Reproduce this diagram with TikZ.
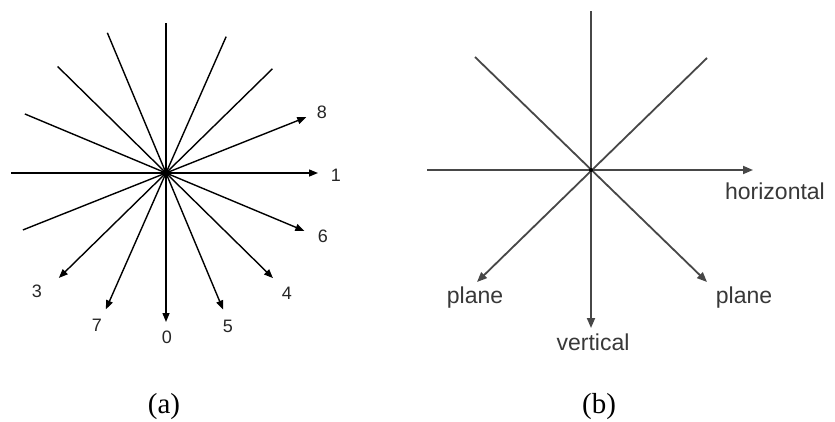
\documentclass[tikz,border=0pt]{standalone}
\usepackage{fontspec}
\setmainfont{Liberation Serif}
\newfontfamily\lblfont{Liberation Sans}
\usetikzlibrary{arrows.meta}
\begin{document}
\begin{tikzpicture}[x=1pt,y=-1pt,
  rayA/.style={line width=1.4pt, black, -{Triangle[length=9pt,width=7pt]}},
  rayB/.style={line width=1.8pt, black!72, -{Triangle[length=10pt,width=8pt]}},
  numlbl/.style={anchor=base, inner sep=0pt, font=\lblfont\fontsize{18}{18}\selectfont, text=black!85},
  wordlbl/.style={anchor=base, inner sep=0pt, font=\lblfont\fontsize{23}{23}\selectfont, text=black!78},
  caplbl/.style={anchor=base, inner sep=0pt, font=\fontsize{29}{29}\selectfont}]
\useasboundingbox (0,0) rectangle (835,421);
\fill[white] (0,0) rectangle (835,421);

% ---------- (a) ----------
\coordinate (ca) at (166,173);
\path (ca) ++(90:149) coordinate (h0);   \path (ca) ++(270:150) coordinate (t0);
\path (ca) ++(0:152) coordinate (h1);    \path (ca) ++(180:155) coordinate (t1);
\path (ca) ++(67.3:148) coordinate (h5); \path (ca) ++(247.3:152) coordinate (t5);
\path (ca) ++(113.8:149) coordinate (h7);\path (ca) ++(293.8:149) coordinate (t7);
\path (ca) ++(44.5:150) coordinate (h4); \path (ca) ++(224.5:152) coordinate (t4);
\path (ca) ++(135.6:150) coordinate (h3);\path (ca) ++(315.6:149) coordinate (t3);
\path (ca) ++(22.7:150) coordinate (h6); \path (ca) ++(202.7:153) coordinate (t6);
\path (ca) ++(-21.7:151) coordinate (h8);\path (ca) ++(158.3:154) coordinate (t8);

\foreach \k in {0,1,3,4,5,6,7,8}{
  \draw[rayA] (t\k) -- (h\k);
}
\fill[black] (ca) circle (4pt);

\node[numlbl] (l8) at (322,118) {8};
\node[numlbl] (l1) at (336,181) {1};
\node[numlbl] (l6) at (323,242) {6};
\node[numlbl] (l4) at (287,299) {4};
\node[numlbl] (l5) at (228,332) {5};
\node[numlbl] (l0) at (167,343) {0};
\node[numlbl] (l7) at (97,331) {7};
\node[numlbl] (l3) at (37,297) {3};

% ---------- (b) ----------
\coordinate (cb) at (591,170);
\coordinate (bv0) at (591,11);
\coordinate (bv1) at (591,328);
\coordinate (bh0) at (427,170);
\coordinate (bh1) at (753,170);
\coordinate (bl0) at (707,58);
\coordinate (bl1) at (477,282);
\coordinate (br0) at (475,57);
\coordinate (br1) at (707,282);
\draw[rayB] (bv0) -- (bv1);
\draw[rayB] (bh0) -- (bh1);
\draw[rayB] (bl0) -- (bl1);
\draw[rayB] (br0) -- (br1);
\fill[black] (cb) circle (2pt);

\node[wordlbl] (hz) at (775,199) {horizontal};
\node[wordlbl] (pl) at (475,303) {plane};
\node[wordlbl] (pr) at (744,303) {plane};
\node[wordlbl] (vt) at (593,350) {vertical};

% ---------- captions ----------
\node[caplbl] (capa) at (164,413) {(a)};
\node[caplbl] (capb) at (599,413) {(b)};
\end{tikzpicture}
\end{document}
